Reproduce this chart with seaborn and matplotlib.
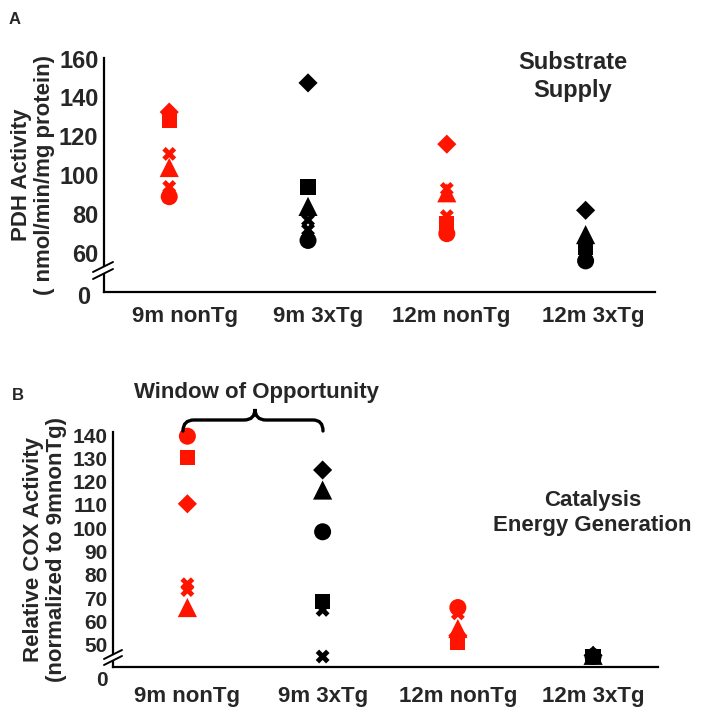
import matplotlib
matplotlib.use("Agg")
import matplotlib.pyplot as plt
from matplotlib.lines import Line2D
from matplotlib.patches import Polygon, PathPatch
from matplotlib.path import Path
from matplotlib.transforms import ScaledTranslation
import pandas as pd
import seaborn as sns

groups = ["9m nonTg", "9m 3xTg", "12m nonTg", "12m 3xTg"]

# panel A: PDH activity (nmol/min/mg protein), axis broken below 60
pdh_group = ["9m nonTg"] * 6 + ["9m 3xTg"] * 6 + ["12m nonTg"] * 6 + ["12m 3xTg"] * 5
pdh_shape = ["D", "s", "X", "^", "X", "o",
             "D", "s", "^", "X", "X", "o",
             "D", "X", "^", "X", "s", "o",
             "D", "^", "s", "X", "o"]
pdh_value = [132.5, 128, 111, 104, 94, 89,
             147.5, 94, 84, 77, 72, 66.5,
             116, 93, 91, 79, 75, 70,
             82, 69.5, 63, 60, 56]
pdh_ticks = [40, 60, 80, 100, 120, 140, 160]
pdh_ticklabels = ["0", "60", "80", "100", "120", "140", "160"]

# panel B: relative COX activity (normalized to 9mnonTg), axis broken below 50
cox_group = ["9m nonTg"] * 6 + ["9m 3xTg"] * 6 + ["12m nonTg"] * 5 + ["12m 3xTg"] * 5
cox_shape = ["o", "s", "D", "X", "X", "^",
             "D", "^", "o", "s", "X", "X",
             "o", "X", "^", "D", "s",
             "D", "^", "s", "o", "X"]
cox_value = [139.5, 130.5, 110.5, 76, 73.5, 66,
             125, 116.4, 98.5, 68.5, 65, 45,
             66, 63.5, 57, 54, 51,
             45.5, 45.5, 45, 45, 45]
cox_ticks = [40.5, 50, 60, 70, 80, 90, 100, 110, 120, 130, 140]
cox_ticklabels = ["0", "50", "60", "70", "80", "90", "100", "110", "120", "130", "140"]

RED = "#FF1400"
colors = {"nonTg": RED, "3xTg": "black"}
sizes = {"o": 150, "s": 120, "D": 95, "^": 190, "X": 100}

sns.set_style("white")
plt.rcParams["font.family"] = ["Liberation Sans", "DejaVu Sans"]
plt.rcParams["font.weight"] = "bold"

W, H = 704, 719
fig = plt.figure(figsize=(W / 100, H / 100), dpi=100)


def px_box(left, top, right, bottom):
    return [left / W, 1 - bottom / H, (right - left) / W, (bottom - top) / H]


def shift(label, dx, dy):
    # nudge a tick label by pixels (dy positive = down)
    label.set_transform(label.get_transform()
                        + ScaledTranslation(dx / 100, -dy / 100, fig.dpi_scale_trans))


def make_frame(group, shape, value):
    df = pd.DataFrame({"group": group, "shape": shape, "value": value})
    df["group"] = pd.Categorical(df["group"], categories=groups)
    df["geno"] = ["3xTg" if "3xTg" in g else "nonTg" for g in group]
    return df


def dot_panel(ax, df, ticks, ticklabels, ylim, xlim, tick_size, xpad):
    for shape in ["o", "s", "D", "^", "X"]:
        sub = df[df["shape"] == shape]
        sns.scatterplot(data=sub, x="group", y="value", hue="geno", palette=colors,
                        marker=shape, s=sizes[shape], linewidth=0, legend=False,
                        ax=ax, zorder=3, clip_on=False)
    ax.set_xlim(*xlim)
    ax.set_ylim(*ylim)
    ax.set_yticks(ticks)
    ax.set_yticklabels(ticklabels, fontsize=tick_size, fontweight="bold")
    ax.set_xticks(range(len(groups)))
    ax.set_xticklabels(groups, fontsize=16, fontweight="bold")
    ax.tick_params(axis="both", length=0)
    ax.tick_params(axis="y", pad=4)
    ax.tick_params(axis="x", pad=xpad)
    ax.set_xlabel("")
    sns.despine(ax=ax)
    for side in ["left", "bottom"]:
        ax.spines[side].set_linewidth(1.6)
        ax.spines[side].set_color("black")


def axis_break(x0, x1, y_low, y_high, dy):
    # two slashes with a white gap across the y axis
    to_fig = lambda x, y: (x / W, 1 - y / H)
    gap = Polygon([to_fig(x0, y_low), to_fig(x1, y_high),
                   to_fig(x1, y_high + dy), to_fig(x0, y_low + dy)],
                  closed=True, facecolor="white", edgecolor="none",
                  transform=fig.transFigure, zorder=5)
    fig.add_artist(gap)
    for off in (0, dy):
        fig.add_artist(Line2D([x0 / W, x1 / W], [1 - (y_low + off) / H, 1 - (y_high + off) / H],
                              color="black", lw=1.4, transform=fig.transFigure, zorder=6))


# ---- panel A
axA = fig.add_axes(px_box(104, 58, 655, 292))
dot_panel(axA, make_frame(pdh_group, pdh_shape, pdh_value), pdh_ticks, pdh_ticklabels,
          (40, 160.3), (-0.47, 3.5), 17, 10)
axA.set_ylabel("PDH Activity\n( nmol/min/mg protein)", fontsize=16, fontweight="bold",
               labelpad=3, linespacing=1.1)
axA.text(0.85, 0.92, "Substrate\nSupply", transform=axA.transAxes, ha="center", va="center",
         fontsize=17, fontweight="bold", linespacing=1.25)
fig.text(15 / W, 1 - 19 / H, "A", fontsize=12, fontweight="bold", ha="center", va="center")
axis_break(93, 113, 272, 262, 7)
for lab, dx in zip(axA.get_xticklabels(), [16, 10, 4, 8]):
    shift(lab, dx, 0)
shift(axA.get_yticklabels()[0], -8, 3)

# ---- panel B
axB = fig.add_axes(px_box(113, 432, 658, 667))
dot_panel(axB, make_frame(cox_group, cox_shape, cox_value), cox_ticks, cox_ticklabels,
          (40.5, 141.3), (-0.55, 3.48), 15, 14)
axB.set_ylabel("Relative COX Activity\n(normalized to 9mnonTg)", fontsize=16,
               fontweight="bold", labelpad=4, linespacing=1.1)
axB.text(0.88, 0.655, "Catalysis\nEnergy Generation", transform=axB.transAxes, ha="center",
         va="center", fontsize=16, fontweight="bold", linespacing=1.3)
fig.text(18 / W, 1 - 395 / H, "B", fontsize=12, fontweight="bold", ha="center", va="center")
fig.text(257 / W, 1 - 392 / H, "Window of Opportunity", fontsize=16, fontweight="bold",
         ha="center", va="center")
axis_break(104, 122, 659, 650, 6)
shift(axB.get_yticklabels()[0], 0, 12)

# curly brace spanning 9m nonTg to 9m 3xTg
pts = [(183, 431), (183, 420), (194, 420), (244, 420), (255, 420), (255, 409),
       (255, 420), (266, 420), (313, 420), (323, 420), (323, 431)]
codes = [Path.MOVETO, Path.CURVE3, Path.CURVE3, Path.LINETO, Path.CURVE3, Path.CURVE3,
         Path.CURVE3, Path.CURVE3, Path.LINETO, Path.CURVE3, Path.CURVE3]
brace = Path([(x / W, 1 - y / H) for x, y in pts], codes)
fig.add_artist(PathPatch(brace, facecolor="none", edgecolor="black", lw=2.4,
                         capstyle="round", transform=fig.transFigure))

fig.savefig("out.png", dpi=100)
